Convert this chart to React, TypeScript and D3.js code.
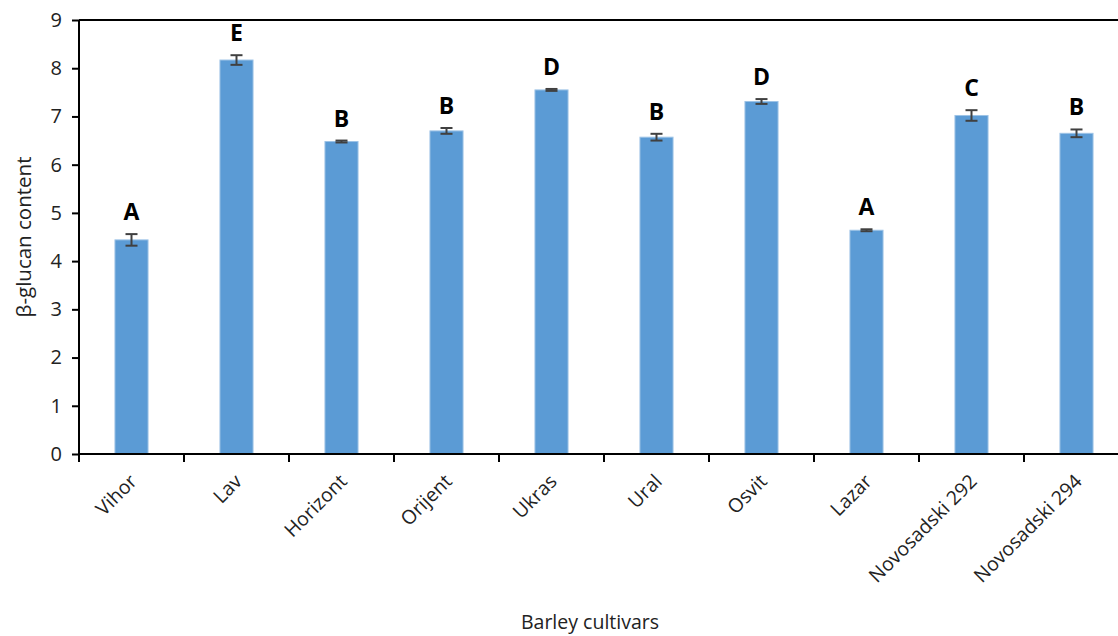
import { useEffect, useRef } from 'react';
import * as d3 from 'd3';

const CULTIVARS = ['Vihor', 'Lav', 'Horizont', 'Orijent', 'Ukras', 'Ural', 'Osvit', 'Lazar', 'Novosadski 292', 'Novosadski 294'];
const GLUCAN = [4.44, 8.17, 6.48, 6.70, 7.55, 6.57, 7.31, 4.64, 7.02, 6.65];
const ERRORS = [0.12, 0.1, 0.02, 0.06, 0.02, 0.07, 0.05, 0.02, 0.11, 0.08];
const GROUPS = ['A', 'E', 'B', 'B', 'D', 'B', 'D', 'A', 'C', 'B'];
const Y_TICKS = [0, 1, 2, 3, 4, 5, 6, 7, 8, 9];

const WIDTH = 1118;
const HEIGHT = 636;
const FONT = '"Open Sans", "Noto Sans", sans-serif';

export default function App() {
    const svgRef = useRef<SVGSVGElement>(null);

    useEffect(() => {
        if (!svgRef.current) return;
        const svg = d3.select(svgRef.current);
        svg.selectAll('*').remove();

        // plot area runs past the right edge of the picture
        const left = 79, right = 1129, top = 20, bottom = 454;

        const x = d3.scaleBand<string>()
            .domain(CULTIVARS)
            .range([left, right])
            .paddingInner(0.685)
            .paddingOuter(0.3425);

        const y = d3.scaleLinear().domain([0, 9]).range([bottom, top]);

        const rows = CULTIVARS.map((name, i) => ({ name, value: GLUCAN[i], err: ERRORS[i], group: GROUPS[i] }));

        // top border
        svg.append('line')
            .attr('x1', left).attr('x2', right)
            .attr('y1', top).attr('y2', top)
            .attr('stroke', '#000').attr('stroke-width', 2);

        // bars
        svg.append('g')
            .selectAll('rect')
            .data(rows)
            .enter()
            .append('rect')
            .attr('x', d => x(d.name)!)
            .attr('y', d => y(d.value))
            .attr('width', x.bandwidth())
            .attr('height', d => y(0) - y(d.value))
            .attr('fill', '#5B9BD5')
            .attr('stroke', '#9DC3E6')
            .attr('stroke-width', 1);

        // error bars
        const eb = svg.append('g').attr('stroke', '#404040').attr('stroke-width', 2);
        rows.forEach(d => {
            const cx = x(d.name)! + x.bandwidth() / 2;
            eb.append('line').attr('x1', cx).attr('x2', cx).attr('y1', y(d.value - d.err)).attr('y2', y(d.value + d.err));
            eb.append('line').attr('x1', cx - 6).attr('x2', cx + 6).attr('y1', y(d.value - d.err)).attr('y2', y(d.value - d.err));
            eb.append('line').attr('x1', cx - 6).attr('x2', cx + 6).attr('y1', y(d.value + d.err)).attr('y2', y(d.value + d.err));
        });

        // group letters
        svg.append('g')
            .selectAll('text')
            .data(rows)
            .enter()
            .append('text')
            .attr('x', d => x(d.name)! + x.bandwidth() / 2)
            .attr('y', d => y(d.value + d.err) - 14)
            .attr('text-anchor', 'middle')
            .attr('font-family', FONT)
            .attr('font-weight', 'bold')
            .attr('font-size', 23)
            .attr('fill', '#000')
            .text(d => d.group);

        // y axis
        const yAxis = svg.append('g')
            .attr('transform', `translate(${left},0)`)
            .call(d3.axisLeft(y).tickValues(Y_TICKS).tickSize(7).tickPadding(10).tickFormat(d3.format('d')));
        yAxis.select('.domain').attr('stroke', '#000').attr('stroke-width', 2).attr('d', `M0,${top}V${bottom}`);
        yAxis.selectAll('.tick line').attr('stroke', '#000').attr('stroke-width', 2);
        yAxis.selectAll('text')
            .attr('font-family', FONT)
            .attr('font-size', 20)
            .attr('fill', '#222');

        // x axis: ticks sit between categories
        const xAxis = svg.append('g').attr('transform', `translate(0,${bottom})`);
        xAxis.append('line')
            .attr('x1', left).attr('x2', right)
            .attr('stroke', '#000').attr('stroke-width', 2);
        const step = x.step();
        xAxis.selectAll('.sep')
            .data(d3.range(CULTIVARS.length + 1))
            .enter()
            .append('line')
            .attr('x1', i => left + i * step)
            .attr('x2', i => left + i * step)
            .attr('y1', 0).attr('y2', 8)
            .attr('stroke', '#000').attr('stroke-width', 2);

        xAxis.selectAll('.lbl')
            .data(CULTIVARS)
            .enter()
            .append('text')
            .attr('transform', d => `translate(${x(d)! + x.bandwidth() / 2 - 3},${19}) rotate(-45)`)
            .attr('text-anchor', 'end')
            .attr('dy', '0.7em')
            .attr('font-family', FONT)
            .attr('font-size', 19.5)
            .attr('fill', '#222')
            .text(d => d);

        // axis titles
        svg.append('text')
            .attr('transform', `translate(31,${(top + bottom) / 2}) rotate(-90)`)
            .attr('text-anchor', 'middle')
            .attr('font-family', FONT)
            .attr('font-size', 20.5)
            .attr('fill', '#222')
            .text('β-glucan content');

        svg.append('text')
            .attr('x', 590)
            .attr('y', 629)
            .attr('text-anchor', 'middle')
            .attr('font-family', FONT)
            .attr('font-size', 19.5)
            .attr('fill', '#222')
            .text('Barley cultivars');
    }, []);

    return (
        <svg
            ref={svgRef}
            width={WIDTH}
            height={HEIGHT}
            style={{ position: 'absolute', left: 0, top: 0, background: '#fff', overflow: 'hidden' }}
        />
    );
}
